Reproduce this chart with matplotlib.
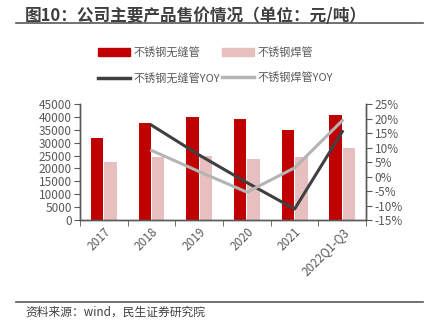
import numpy as np
import matplotlib
matplotlib.use("Agg")
import matplotlib.pyplot as plt
from matplotlib.lines import Line2D
from matplotlib.patches import Patch

plt.rcParams['font.family'] = ['Noto Sans CJK SC', 'DejaVu Sans']
plt.rcParams['axes.unicode_minus'] = False

# 售价（元/吨）及同比（%）
years = ["2017", "2018", "2019", "2020", "2021", "2022Q1-Q3"]
seamless_price = [32000, 37500, 40000, 39000, 34800, 40700]
welded_price = [22500, 24500, 25000, 23500, 24400, 27800]
seamless_yoy = [np.nan, 17.7, 7.4, -2.1, -11.2, 15.5]
welded_yoy = [np.nan, 9.0, 1.7, -5.4, 3.0, 19.3]

RED = "#C00000"
PINK = "#E8BFBF"
DARK = "#404040"
LIGHT = "#B4B4B4"
AXIS = "#595959"

fig = plt.figure(figsize=(4.31, 3.33), dpi=100)
ax = fig.add_axes([0.1856, 0.3393, 0.664, 0.3483])
ax2 = ax.twinx()

x = np.arange(len(years))
w = 0.26
ax.bar(x - 0.14, seamless_price, w, color=RED, zorder=2)
ax.bar(x + 0.14, welded_price, w, color=PINK, zorder=2)
ax.set_ylim(0, 45000)
ax.set_yticks(np.arange(0, 45001, 5000))
ax.set_xlim(-0.5, len(years) - 0.5)
ax.set_xticks(x)
ax.set_xticklabels(years, rotation=45, ha='right', va='top', rotation_mode='anchor')
ax.set_xticks(np.arange(-0.5, len(years), 1.0), minor=True)
ax.tick_params(axis='x', which='major', length=0, pad=4)
ax.tick_params(axis='x', which='minor', length=4, direction='out', color=AXIS)

ax2.plot(x, seamless_yoy, color=DARK, lw=2.2, zorder=3)
ax2.plot(x, welded_yoy, color=LIGHT, lw=2.2, zorder=3)
ax2.set_ylim(-15, 25)
ax2.set_yticks(np.arange(-15, 26, 5))
ax2.set_yticklabels([f"{v}%" for v in range(-15, 26, 5)])

for a in (ax, ax2):
    a.spines['top'].set_visible(False)
    for s in ('left', 'right', 'bottom'):
        a.spines[s].set_color(AXIS)
        a.spines[s].set_linewidth(1.0)
    a.tick_params(axis='y', length=4, color=AXIS, labelcolor=AXIS, labelsize=8.5, pad=2)
    a.tick_params(axis='x', labelcolor=AXIS, labelsize=8.5)

handles = [
    Patch(color=RED), Line2D([], [], color=DARK, lw=2.5),
    Patch(color=PINK), Line2D([], [], color=LIGHT, lw=2.5),
]
labels = ["不锈钢无缝管", "不锈钢无缝管YOY", "不锈钢焊管", "不锈钢焊管YOY"]
fig.legend(handles, labels, ncol=2, loc='center', bbox_to_anchor=(0.5, 0.804),
           frameon=False, fontsize=8, handlelength=2.9, handletextpad=0.3,
           columnspacing=0.2, labelspacing=1.3, labelcolor=AXIS)

fig.text(0.058, 0.952, "图10：公司主要产品售价情况（单位：元/吨）", fontsize=12,
         fontweight='bold', color="#3F3F3F", ha='left', va='center')
fig.add_artist(Line2D([0.037, 0.981], [0.932, 0.932], color=AXIS, lw=1.2))
fig.add_artist(Line2D([0.037, 0.981], [0.094, 0.094], color=AXIS, lw=1.2))
fig.text(0.058, 0.063, "资料来源：wind，民生证券研究院", fontsize=8.5,
         color="#404040", ha='left', va='center')

fig.savefig("out.png", dpi=100)
